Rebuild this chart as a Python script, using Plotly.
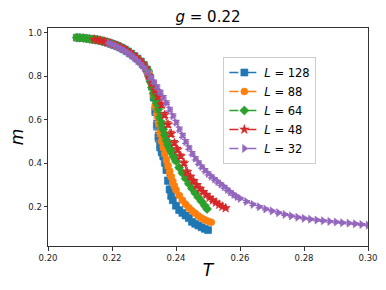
import plotly.graph_objects as go

# ---------------- data ----------------
T128 = [0.209, 0.210, 0.211, 0.212, 0.213, 0.214, 0.215, 0.216, 0.217, 0.218,
        0.219, 0.220, 0.221, 0.222, 0.223, 0.224, 0.225, 0.226, 0.227, 0.228,
        0.229, 0.230, 0.231,
        0.2315, 0.232, 0.2325, 0.233, 0.2335, 0.234, 0.2345, 0.235, 0.2355, 0.236,
        0.2365, 0.237, 0.2375, 0.238, 0.2385,
        0.239, 0.240, 0.241, 0.242, 0.243, 0.244, 0.245, 0.246, 0.247, 0.248, 0.249, 0.250]
m128 = [0.977, 0.976, 0.975, 0.973, 0.971, 0.969, 0.967, 0.964, 0.961, 0.957,
        0.953, 0.948, 0.943, 0.937, 0.930, 0.922, 0.913, 0.903, 0.892, 0.880,
        0.867, 0.850, 0.828,
        0.812, 0.790, 0.755, 0.705, 0.640, 0.575, 0.520, 0.478, 0.455, 0.435,
        0.405, 0.370, 0.320, 0.280, 0.250,
        0.230, 0.205, 0.185, 0.172, 0.160, 0.148, 0.131, 0.122, 0.114, 0.106, 0.099, 0.093]
e128 = [0.002, 0.002, 0.002, 0.002, 0.002, 0.002, 0.002, 0.002, 0.002, 0.002,
        0.002, 0.003, 0.003, 0.003, 0.003, 0.003, 0.004, 0.004, 0.004, 0.005,
        0.005, 0.006, 0.008,
        0.010, 0.012, 0.015, 0.018, 0.020, 0.022, 0.022, 0.020, 0.020, 0.018,
        0.018, 0.016, 0.015, 0.012, 0.010,
        0.008, 0.007, 0.006, 0.006, 0.005, 0.005, 0.004, 0.004, 0.004, 0.003, 0.003, 0.003]

T88 = [0.209, 0.210, 0.211, 0.212, 0.213, 0.214, 0.215, 0.216, 0.217, 0.218,
       0.219, 0.220, 0.221, 0.222, 0.223, 0.224, 0.225, 0.226, 0.227, 0.228,
       0.229, 0.230, 0.231,
       0.2315, 0.232, 0.2325, 0.233, 0.2335, 0.234, 0.2345, 0.235, 0.2355, 0.236,
       0.2365, 0.237, 0.2375, 0.238, 0.2385, 0.239, 0.2395,
       0.240, 0.241, 0.242, 0.243, 0.244, 0.245, 0.246, 0.247, 0.248, 0.249, 0.250, 0.251]
m88 = [0.977, 0.976, 0.975, 0.973, 0.971, 0.969, 0.967, 0.964, 0.961, 0.957,
       0.953, 0.948, 0.943, 0.937, 0.930, 0.922, 0.913, 0.903, 0.892, 0.880,
       0.867, 0.850, 0.828,
       0.815, 0.795, 0.765, 0.715, 0.665, 0.625, 0.585, 0.540, 0.505, 0.475,
       0.445, 0.415, 0.388, 0.362, 0.338, 0.315, 0.295,
       0.277, 0.252, 0.230, 0.212, 0.196, 0.182, 0.170, 0.158, 0.148, 0.140, 0.134, 0.129]
e88 = [0.002, 0.002, 0.002, 0.002, 0.002, 0.002, 0.002, 0.002, 0.002, 0.002,
       0.002, 0.003, 0.003, 0.003, 0.003, 0.003, 0.004, 0.004, 0.004, 0.005,
       0.005, 0.006, 0.008,
       0.010, 0.012, 0.014, 0.016, 0.018, 0.018, 0.018, 0.017, 0.016, 0.015,
       0.014, 0.013, 0.012, 0.011, 0.010, 0.009, 0.008,
       0.008, 0.007, 0.006, 0.005, 0.005, 0.004, 0.004, 0.004, 0.003, 0.003, 0.003, 0.003]

T64 = [0.209, 0.210, 0.211, 0.212, 0.213, 0.214, 0.215, 0.216, 0.217, 0.218,
       0.219, 0.220, 0.221, 0.222, 0.223, 0.224, 0.225, 0.226, 0.227, 0.228,
       0.229, 0.230, 0.231,
       0.2315, 0.232, 0.2325, 0.233, 0.2335, 0.234, 0.2345, 0.235, 0.2355, 0.236,
       0.2365, 0.237, 0.2375, 0.238, 0.2385, 0.239, 0.2395,
       0.240, 0.241, 0.242, 0.243, 0.244, 0.245, 0.246, 0.247, 0.248, 0.249, 0.2497]
m64 = [0.977, 0.976, 0.975, 0.973, 0.971, 0.969, 0.967, 0.964, 0.961, 0.957,
       0.953, 0.948, 0.943, 0.937, 0.930, 0.922, 0.913, 0.903, 0.892, 0.880,
       0.867, 0.850, 0.830,
       0.800, 0.775, 0.748, 0.722, 0.698, 0.676, 0.648, 0.612, 0.582, 0.556,
       0.530, 0.506, 0.486, 0.470, 0.455, 0.440, 0.425,
       0.410, 0.380, 0.355, 0.330, 0.306, 0.284, 0.263, 0.243, 0.224, 0.205, 0.190]
e64 = [0.002, 0.002, 0.002, 0.002, 0.002, 0.002, 0.002, 0.002, 0.002, 0.002,
       0.002, 0.003, 0.003, 0.003, 0.003, 0.003, 0.004, 0.004, 0.004, 0.005,
       0.005, 0.006, 0.008,
       0.010, 0.011, 0.012, 0.013, 0.014, 0.014, 0.014, 0.013, 0.013, 0.012,
       0.012, 0.011, 0.010, 0.010, 0.009, 0.009, 0.008,
       0.008, 0.007, 0.007, 0.006, 0.006, 0.005, 0.005, 0.004, 0.004, 0.004, 0.004]

T48 = [0.2145, 0.2155, 0.2165, 0.2175, 0.2185, 0.2195, 0.2205, 0.2215, 0.2225, 0.2235,
       0.2245, 0.2255, 0.2265, 0.2275, 0.2285, 0.2295, 0.2305, 0.2315, 0.2325, 0.2335,
       0.2345, 0.2355, 0.2365, 0.2375, 0.2385, 0.2395, 0.2405, 0.2415, 0.2425, 0.2435,
       0.2445, 0.2455, 0.2465, 0.2475, 0.2485, 0.2495, 0.2505, 0.2515, 0.2525, 0.2535,
       0.2545, 0.2555]
m48 = [0.968, 0.966, 0.963, 0.959, 0.955, 0.950, 0.945, 0.940, 0.934, 0.926,
       0.918, 0.908, 0.897, 0.886, 0.873, 0.858, 0.838, 0.800, 0.765, 0.735,
       0.705, 0.668, 0.622, 0.578, 0.535, 0.493, 0.462, 0.432, 0.400, 0.360,
       0.338, 0.318, 0.300, 0.283, 0.268, 0.255, 0.242, 0.230, 0.220, 0.210,
       0.201, 0.194]
e48 = [0.002, 0.002, 0.002, 0.002, 0.002, 0.002, 0.003, 0.003, 0.003, 0.003,
       0.003, 0.004, 0.004, 0.004, 0.005, 0.005, 0.006, 0.008, 0.009, 0.010,
       0.011, 0.012, 0.012, 0.012, 0.012, 0.011, 0.011, 0.010, 0.010, 0.009,
       0.008, 0.008, 0.007, 0.007, 0.006, 0.006, 0.005, 0.005, 0.005, 0.004,
       0.004, 0.004]

T32 = [0.219, 0.220, 0.221, 0.222, 0.223, 0.224, 0.225, 0.226, 0.227, 0.228,
       0.229, 0.230, 0.231, 0.232, 0.233, 0.234, 0.235, 0.236, 0.237, 0.238,
       0.239, 0.240, 0.241, 0.242, 0.243, 0.244, 0.245, 0.246, 0.247, 0.248,
       0.249, 0.250, 0.251, 0.252, 0.253, 0.254, 0.255, 0.256, 0.257, 0.258,
       0.259, 0.260,
       0.262, 0.264, 0.266, 0.268, 0.270, 0.272, 0.274, 0.276, 0.278, 0.280,
       0.282, 0.284, 0.286, 0.288, 0.290, 0.292, 0.294, 0.296, 0.298, 0.300]
m32 = [0.952, 0.946, 0.940, 0.933, 0.925, 0.917, 0.907, 0.897, 0.885, 0.871,
       0.856, 0.840, 0.820, 0.797, 0.775, 0.752, 0.728, 0.703, 0.678, 0.648,
       0.618, 0.588, 0.557, 0.528, 0.500, 0.472, 0.446, 0.423, 0.403, 0.385,
       0.368, 0.353, 0.340, 0.328, 0.316, 0.304, 0.292, 0.280, 0.268, 0.257,
       0.247, 0.238,
       0.224, 0.211, 0.200, 0.190, 0.181, 0.173, 0.165, 0.158, 0.152, 0.147,
       0.143, 0.139, 0.136, 0.133, 0.130, 0.127, 0.125, 0.122, 0.119, 0.116]
e32 = [0.003, 0.003, 0.003, 0.003, 0.003, 0.004, 0.004, 0.004, 0.005, 0.005,
       0.005, 0.006, 0.006, 0.007, 0.007, 0.008, 0.008, 0.008, 0.009, 0.009,
       0.009, 0.009, 0.009, 0.009, 0.009, 0.008, 0.008, 0.008, 0.008, 0.007,
       0.007, 0.007, 0.007, 0.006, 0.006, 0.006, 0.006, 0.006, 0.005, 0.005,
       0.005, 0.005,
       0.005, 0.005, 0.005, 0.004, 0.004, 0.004, 0.004, 0.004, 0.004, 0.004,
       0.004, 0.004, 0.004, 0.004, 0.004, 0.004, 0.004, 0.004, 0.004, 0.004]

labels = ["<i>L</i> = 128", "<i>L</i> = 88", "<i>L</i> = 64", "<i>L</i> = 48", "<i>L</i> = 32"]
x_ticks = [0.20, 0.22, 0.24, 0.26, 0.28, 0.30]
y_ticks = [0.2, 0.4, 0.6, 0.8, 1.0]

series = [(T128, m128, e128), (T88, m88, e88), (T64, m64, e64), (T48, m48, e48), (T32, m32, e32)]
for T, m, e in series:
    assert len(T) == len(m) == len(e), (len(T), len(m), len(e))

colors = ["#1f77b4", "#ff7f0e", "#2ca02c", "#d62728", "#9467bd"]
symbols = ["square", "circle", "diamond", "star", "triangle-right"]

fig = go.Figure()
for (T, m, e), lab, c, s in zip(series, labels, colors, symbols):
    fig.add_trace(go.Scatter(
        x=T, y=m, name=lab, mode="lines+markers",
        line=dict(color=c, width=1.3, dash="dash"),
        marker=dict(symbol=s, size=7, color=c, line=dict(width=0.6, color=c)),
        error_y=dict(type="data", array=e, visible=True, color=c, thickness=1.2, width=3.5),
    ))

font = "DejaVu Sans, sans-serif"
fig.update_layout(
    width=386, height=290,
    margin=dict(l=48, r=18, t=28, b=44, autoexpand=False),
    paper_bgcolor="white", plot_bgcolor="white",
    font=dict(family=font, color="black"),
    showlegend=True,
    hovermode=False,
    title=dict(text="<i>g</i> = 0.22", font=dict(size=15, family=font, color="black"),
               x=208 / 386, xanchor="center", xref="container",
               y=1 - 17 / 290, yanchor="middle", yref="container"),
    legend=dict(x=0.548, y=0.867, xanchor="left", yanchor="top",
                bgcolor="rgba(255,255,255,0.85)", bordercolor="#cccccc", borderwidth=1,
                font=dict(size=11.5, family=font, color="black"),
                itemwidth=30, tracegroupgap=0),
)
fig.update_xaxes(
    range=[0.20, 0.30], tickvals=x_ticks, tickformat=".2f", automargin=False,
    ticks="outside", ticklen=3.5, tickwidth=1, tickcolor="#333",
    showline=True, linecolor="#333", linewidth=1, mirror=True, showgrid=False, zeroline=False,
    tickfont=dict(size=8.5, family=font, color="#222"),
    title=dict(text="<i>T</i>", font=dict(size=17, family=font, color="black"), standoff=2),
)
fig.update_yaxes(
    range=[0.02, 1.021], tickvals=y_ticks, tickformat=".1f", automargin=False,
    ticks="outside", ticklen=3.5, tickwidth=1, tickcolor="#333",
    showline=True, linecolor="#333", linewidth=1, mirror=True, showgrid=False, zeroline=False,
    tickfont=dict(size=8.5, family=font, color="#222"),
    title=dict(text="<i>m</i>", font=dict(size=17, family=font, color="black"), standoff=0),
)
fig.write_html("out.html", config={"displayModeBar": False},
               post_script="document.body.style.margin='0';")
